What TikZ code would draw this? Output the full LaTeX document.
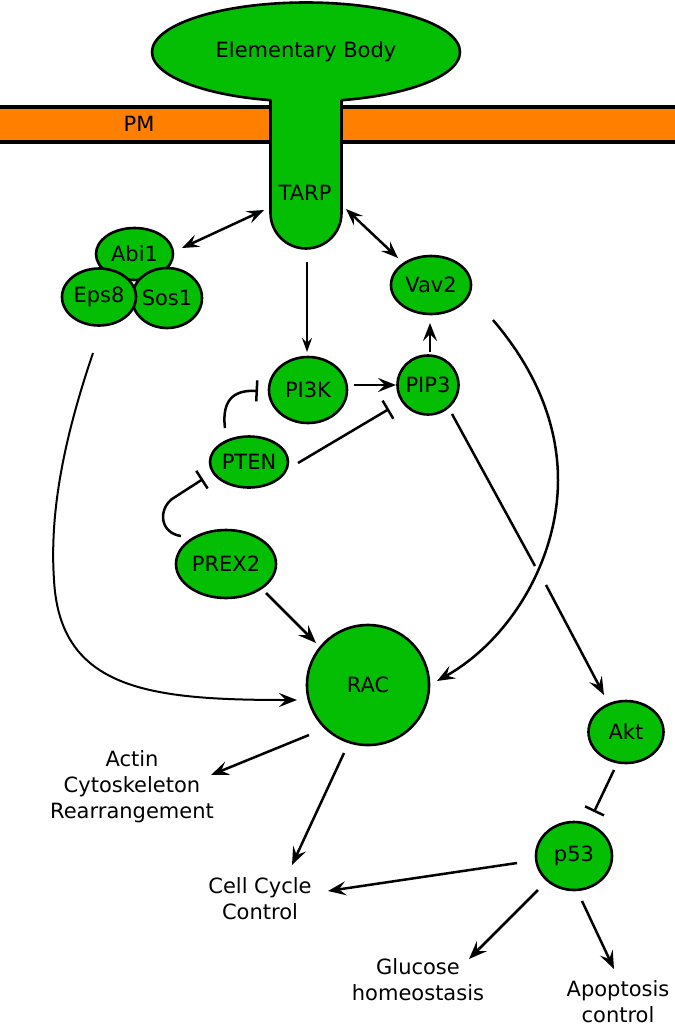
\documentclass[tikz,border=0pt]{standalone}
\usepackage{fontspec}
\setmainfont{DejaVu Sans}
\usetikzlibrary{shapes.geometric,arrows.meta}
\definecolor{nodegreen}{RGB}{4,190,4}
\definecolor{pmorange}{RGB}{255,128,0}
\newcommand\zc[1]{\makebox[0pt]{#1}}
\tikzset{
 mol/.style={ellipse,draw=black,fill=nodegreen,line width=2.6pt,inner sep=0pt,outer sep=0pt,font=\fontsize{21}{26}\selectfont},
 lbl/.style={align=center,font=\fontsize{21}{26}\selectfont,inner sep=0pt},
 tip/.style={},
 act/.style={line width=2.5pt,-{Stealth[length=18pt,width=14pt,inset=7pt]}},
 biact/.style={line width=2.5pt,{Stealth[length=17pt,width=13pt,inset=6.5pt]}-{Stealth[length=17pt,width=13pt,inset=6.5pt]}},
 thinact/.style={line width=1.5pt,-{Stealth[length=14pt,width=10pt,inset=5pt]}},
 inh/.style={line width=2.5pt,-{Bar[width=21pt]}},
}
\begin{document}
\begin{tikzpicture}[x=1pt,y=-1pt]
\useasboundingbox (0,0) rectangle (675,1026);
% membrane
\fill[pmorange] (0,107) rectangle (675,142);
\draw[line width=4.5pt] (0,107) -- (675,107) (0,142) -- (675,142);
\node[lbl] (pm) at (139,124) {PM};
% elementary body and TARP
\node[mol, minimum width=308pt, minimum height=99pt] (eb) at (306,52) {\zc{Elementary Body}};
\fill[nodegreen] (270.5,90) -- (270.5,213) arc[start angle=180,end angle=0,radius=35.5] -- (341.5,90) -- cycle;
\draw[line width=2.6pt] (270.5,99.5) -- (270.5,213) arc[start angle=180,end angle=0,radius=35.5] -- (341.5,99.5);
\node[lbl] (tarp) at (305,193) {TARP};
% molecules
\node[mol, minimum width=77pt, minimum height=52pt] (abi) at (134.5,254) {\zc{Abi1}};
\node[mol, minimum width=70pt, minimum height=60pt] (sos) at (167,298) {\zc{Sos1}};
\node[mol, minimum width=74pt, minimum height=57pt] (eps) at (99,297) {\zc{Eps8}};
\node[mol, minimum width=80pt, minimum height=58pt] (vav) at (431,285) {\zc{Vav2}};
\node[mol, minimum width=78pt, minimum height=66pt] (pi3k) at (308,390) {\zc{PI3K}};
\node[mol, minimum width=61pt, minimum height=59pt] (pip3) at (428,385) {\zc{PIP3}};
\node[mol, minimum width=78pt, minimum height=51pt] (pten) at (249,462) {\zc{PTEN}};
\node[mol, minimum width=100pt, minimum height=68pt] (prex) at (226,564) {\zc{PREX2}};
\node[mol, minimum width=122pt, minimum height=120pt] (rac) at (368,685) {\zc{RAC}};
\node[mol, minimum width=75pt, minimum height=62pt] (akt) at (626,732) {\zc{Akt}};
\node[mol, minimum width=76pt, minimum height=68pt] (p53) at (574,856) {\zc{p53}};
% outcome labels
\node[lbl] (actin) at (132,787) {Actin\\Cytoskeleton\\Rearrangement};
\node[lbl] (cell) at (260,899) {Cell Cycle\\Control};
\node[lbl] (gluc) at (418,980) {Glucose\\homeostasis};
\node[lbl] (apop) at (618,1002) {Apoptosis\\control};
% connector ends
\coordinate (abiE) at (182,248); \coordinate (tarpW) at (264,210);
\coordinate (tarpE) at (346,209); \coordinate (vavN) at (398,258);
\coordinate (tarpS) at (307,262); \coordinate (pi3kN) at (307,352);
\coordinate (pi3kE) at (354,385); \coordinate (pip3W) at (396,385);
\coordinate (pip3N) at (430,352); \coordinate (vavS) at (430,323);
\coordinate (ptenE) at (298,463); \coordinate (pip3SW) at (389,409);
\coordinate (ptenN) at (225,428); \coordinate (pi3kW) at (258,391);
\coordinate (prexNW) at (181,536); \coordinate (ptenSW) at (203,479);
\coordinate (prexSE) at (266,593); \coordinate (racNW) at (316,643);
\coordinate (epsS) at (93,353); \coordinate (racW) at (297,700);
\coordinate (vavSE) at (493,320); \coordinate (racE) at (437,681);
\coordinate (pip3SE) at (452,414); \coordinate (gapA) at (535,566);
\coordinate (gapB) at (546,585); \coordinate (aktN) at (604,695);
\coordinate (aktS) at (614,770); \coordinate (p53N) at (594,812);
\coordinate (racSW) at (309,735); \coordinate (actinE) at (211,775);
\coordinate (racS) at (344,753); \coordinate (cellN) at (292,865);
\coordinate (p53W) at (517,863); \coordinate (cellE) at (328,891);
\coordinate (p53SW) at (538,890); \coordinate (glucN) at (469,959);
\coordinate (p53S) at (582,901); \coordinate (apopN) at (614,969);
% connectors
\draw[biact] (abiE) -- (tarpW);
\draw[biact] (tarpE) -- (vavN);
\draw[thinact] (tarpS) -- (pi3kN);
\draw[act] (pi3kE) -- (pip3W);
\draw[act] (pip3N) -- (vavS);
\draw[inh] (ptenE) -- (pip3SW);
\draw[inh] (ptenN) .. controls (221,396) and (238,390) .. (pi3kW);
\draw[inh] (prexNW) .. controls (160,533) and (158,510) .. (172,499) -- (ptenSW);
\draw[act] (prexSE) -- (racNW);
\draw[act,line width=2pt] (epsS) .. controls (60,450) and (50,520) .. (54,580) .. controls (60,690) and (150,700) .. (racW);
\draw[act] (vavSE) .. controls (540,375) and (558,430) .. (558,480) .. controls (558,560) and (510,640) .. (racE);
\draw[line width=2.5pt] (pip3SE) -- (gapA);
\draw[act] (gapB) -- (aktN);
\draw[inh] (aktS) -- (p53N);
\draw[act] (racSW) -- (actinE);
\draw[act] (racS) -- (cellN);
\draw[act] (p53W) -- (cellE);
\draw[act] (p53SW) -- (glucN);
\draw[act] (p53S) -- (apopN);
\end{tikzpicture}
\end{document}
